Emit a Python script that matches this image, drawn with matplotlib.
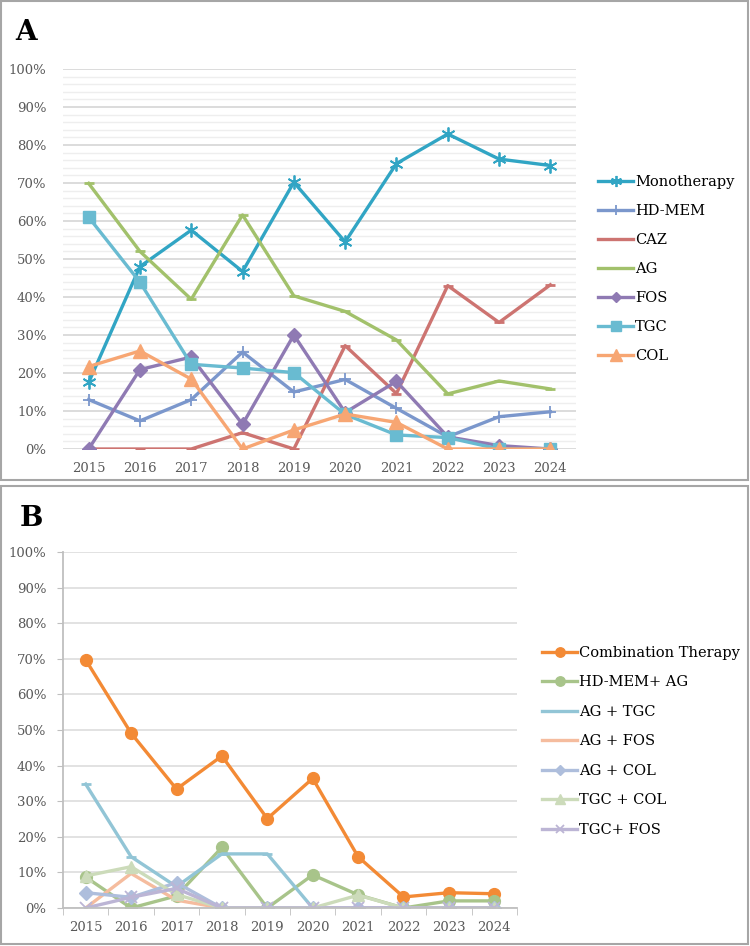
import numpy as np
import matplotlib
matplotlib.use('Agg')
from matplotlib import pyplot as plt
from matplotlib.patches import Rectangle
from matplotlib.ticker import MultipleLocator, PercentFormatter

plt.rcParams['font.family'] = ['DejaVu Serif']

years = ['2015', '2016', '2017', '2018', '2019', '2020', '2021', '2022', '2023', '2024']

# panel A (%)
mono = [17.5, 48.0, 57.6, 46.7, 70.2, 54.5, 75.1, 82.9, 76.3, 74.6]
hd_mem = [13.0, 7.4, 13.0, 25.5, 15.0, 18.3, 10.7, 3.2, 8.5, 9.8]
caz = [0, 0, 0, 4.3, 0, 27.2, 14.6, 43.0, 33.3, 43.2]
ag = [69.9, 52.0, 39.4, 61.6, 40.3, 36.2, 28.7, 14.5, 17.9, 15.8]
fos = [0, 20.9, 24.2, 6.5, 30.0, 9.6, 17.8, 3.2, 0.9, 0]
tgc = [61.0, 43.9, 22.3, 21.3, 20.1, 9.1, 3.7, 3.0, 0, 0]
col = [21.7, 25.8, 18.4, 0, 5.0, 9.2, 7.0, 0, 0, 0]

# panel B (%)
combo = [69.7, 49.1, 33.4, 42.7, 25.1, 36.4, 14.4, 3.1, 4.3, 4.0]
hdmem_ag = [8.7, 0, 3.4, 17.0, 0, 9.3, 3.7, 0, 2.0, 2.0]
ag_tgc = [34.8, 14.4, 6.0, 15.2, 15.2, 0, 0, 0, 0, 0]
ag_fos = [0, 9.7, 2.2, 0, 0, 0, 0, 0, 0, 0]
ag_col = [4.3, 3.0, 7.1, 0, 0, 0, 0, 0, 0, 0]
tgc_col = [9.0, 11.6, 3.8, 0, 0, 0, 3.6, 0, 0, 0]
tgc_fos = [0, 3.0, 5.5, 0, 0, 0, 0, 0, 0, 0]

W, H = 750, 946
fig = plt.figure(figsize=(7.5, 9.46), dpi=100)

def fx(px):
    return px / W

def fy(py):
    return 1 - py / H

tick_grey = '#595959'

# ---- panel A ----
axA = fig.add_axes([fx(63), fy(449), fx(576 - 63), (449 - 69) / H])
sA = [
    ('Monotherapy', mono, '#31A5C4', dict(marker=(6, 2, 0), ms=10, mew=1.3)),
    ('HD-MEM', hd_mem, '#7B97CC', dict(marker='+', ms=9, mew=1.3)),
    ('CAZ', caz, '#CD7471', dict(marker='_', ms=7, mew=2)),
    ('AG', ag, '#A2C16B', dict(marker='_', ms=7, mew=2)),
    ('FOS', fos, '#8F7AB3', dict(marker='D', ms=7)),
    ('TGC', tgc, '#69BBD1', dict(marker='s', ms=9)),
    ('COL', col, '#F7A673', dict(marker='^', ms=10)),
]
for name, vals, c, mk in sA:
    axA.plot(years, vals, color=c, lw=2.4, label=name, mfc=c, mec=c, **mk)

axA.set_ylim(0, 100)
axA.set_xlim(-0.5, 9.5)
axA.yaxis.set_major_locator(MultipleLocator(10))
axA.yaxis.set_minor_locator(MultipleLocator(2))
axA.yaxis.set_major_formatter(PercentFormatter(decimals=0))
axA.grid(axis='y', which='major', color='#D9D9D9', lw=1.3, zorder=0)
axA.grid(axis='y', which='minor', color='#EEEEEE', lw=1.0, zorder=0)
axA.set_axisbelow(True)
for s in axA.spines.values():
    s.set_visible(False)
axA.tick_params(axis='both', which='both', length=0, labelsize=9.5, labelcolor=tick_grey)
axA.tick_params(axis='y', pad=12)
axA.tick_params(axis='x', pad=9)
axA.legend(loc='upper left', bbox_to_anchor=(fx(598), fy(175)), bbox_transform=fig.transFigure,
           frameon=False, fontsize=10.5, handlelength=2.4, handletextpad=0.15,
           labelspacing=1.03, borderaxespad=0, borderpad=0, markerscale=0.8)
fig.text(fx(15), fy(32), 'A', fontsize=20, fontweight='bold', va='center', ha='left')

# ---- panel B ----
axB = fig.add_axes([fx(63), fy(908), fx(517 - 63), (908 - 552) / H])
sB = [
    ('Combination Therapy', combo, '#F38A35', dict(marker='o', ms=8.5)),
    ('HD-MEM+ AG', hdmem_ag, '#A8C48A', dict(marker='o', ms=8.5)),
    ('AG + TGC', ag_tgc, '#92C5D6', dict(marker='_', ms=7, mew=2)),
    ('AG + FOS', ag_fos, '#F5BC9E', dict(marker='None')),
    ('AG + COL', ag_col, '#AEBEDC', dict(marker='D', ms=7)),
    ('TGC + COL', tgc_col, '#CCDBBA', dict(marker='^', ms=9)),
    ('TGC+ FOS', tgc_fos, '#BCB5D5', dict(marker='x', ms=8, mew=1.3)),
]
for name, vals, c, mk in sB:
    axB.plot(years, vals, color=c, lw=2.4, label=name, mfc=c, mec=c, **mk)

axB.set_ylim(0, 100)
axB.set_xlim(-0.5, 9.5)
axB.yaxis.set_major_locator(MultipleLocator(10))
axB.yaxis.set_major_formatter(PercentFormatter(decimals=0))
axB.xaxis.set_minor_locator(MultipleLocator(1, offset=0.5))
axB.grid(axis='y', which='major', color='#DDDDDD', lw=1.2, zorder=0)
axB.set_axisbelow(True)
for side in ['top', 'right']:
    axB.spines[side].set_visible(False)
for side in ['left', 'bottom']:
    axB.spines[side].set_color('#BFBFBF')
    axB.spines[side].set_linewidth(1.3)
axB.tick_params(axis='both', which='both', color='#BFBFBF', labelsize=9.5, labelcolor=tick_grey)
axB.tick_params(axis='y', which='major', length=4, pad=8)
axB.tick_params(axis='x', which='major', length=0, pad=9)
axB.tick_params(axis='x', which='minor', length=5)
axB.legend(loc='upper left', bbox_to_anchor=(fx(542), fy(646)), bbox_transform=fig.transFigure,
           frameon=False, fontsize=10.5, handlelength=2.4, handletextpad=0.15,
           labelspacing=1.06, borderaxespad=0, borderpad=0, markerscale=0.8)
fig.text(fx(20), fy(519), 'B', fontsize=20, fontweight='bold', va='center', ha='left')

# panel frames
for x0, y0, x1, y1 in [(1, 1, 748, 480), (1, 486, 748, 944)]:
    fig.patches.append(Rectangle((fx(x0), fy(y1)), fx(x1 - x0), (y1 - y0) / H,
                                 transform=fig.transFigure, fill=False,
                                 edgecolor='#A6A6A6', lw=1.5))

fig.savefig('out.png', dpi=100)
